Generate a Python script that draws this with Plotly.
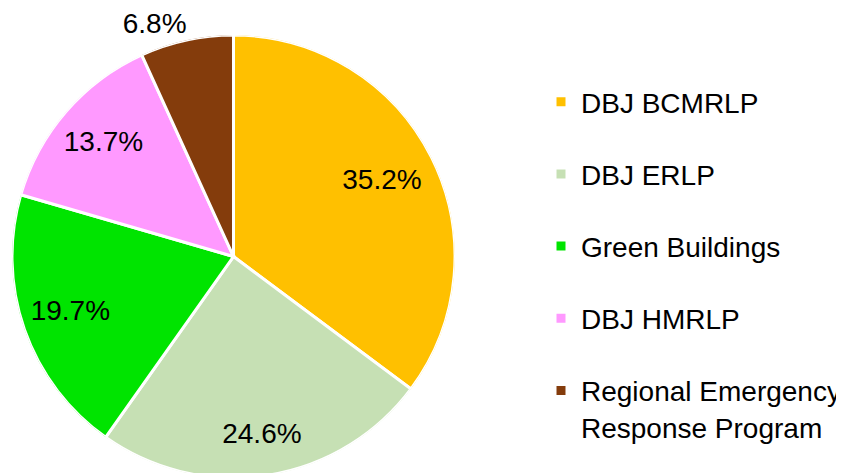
import plotly.graph_objects as go

categories = ["DBJ BCMRLP", "DBJ ERLP", "Green Buildings", "DBJ HMRLP",
              "Regional Emergency<br>Response Program"]
shares = [35.2, 24.6, 19.7, 13.7, 6.8]
colors = ["#FFC000", "#C6E0B4", "#00E400", "#FF99FF", "#843C0C"]
# radial placement of the percentage labels (fraction of the radius)
label_radius = [0.75, 0.82, 0.78, 0.776, 1.0]
label_textpos = ["middle center"] * 4 + ["top left"]

W, H = 844, 483
FONT = "Arial, Liberation Sans, sans-serif"
FS = 28

total = sum(shares)
# slice geometry in degrees (clockwise from 12 o'clock), derived from data
widths = [v / total * 360 for v in shares]
mids = []
acc = 0.0
for w in widths:
    mids.append(acc + w / 2)
    acc += w

fig = go.Figure()
for name, v, th, w, col in zip(categories, shares, mids, widths, colors):
    fig.add_trace(go.Barpolar(
        r=[1], theta=[th], width=[w], name=name, legendgroup=name,
        marker=dict(color=col, line=dict(color="white", width=3)),
        hovertemplate=f"{name}: {v:.1f}%<extra></extra>",
    ))

fig.add_trace(go.Scatterpolar(
    r=label_radius, theta=mids, mode="text",
    text=[f"{v:.1f}%" for v in shares],
    textposition=label_textpos,
    textfont=dict(family=FONT, size=FS, color="black"),
    showlegend=False, hoverinfo="skip",
))

fig.update_layout(
    width=W, height=H,
    margin=dict(l=0, r=0, t=0, b=0),
    paper_bgcolor="white",
    font=dict(family=FONT, size=FS, color="black"),
    polar=dict(
        domain=dict(x=[4 / W, 447 / W], y=[1 - 470 / H, 1 - 27 / H]),
        bgcolor="rgba(0,0,0,0)",
        bargap=0,
        radialaxis=dict(visible=False, range=[0, 1]),
        angularaxis=dict(visible=False, direction="clockwise", rotation=90),
    ),
    legend=dict(x=533 / W, xanchor="left", y=1 - 69 / H, yanchor="top",
                font=dict(family=FONT, size=FS, color="black"),
                tracegroupgap=32.8, valign="top", itemwidth=30,
                bgcolor="rgba(0,0,0,0)"),
)

fig.write_html("out.html")
